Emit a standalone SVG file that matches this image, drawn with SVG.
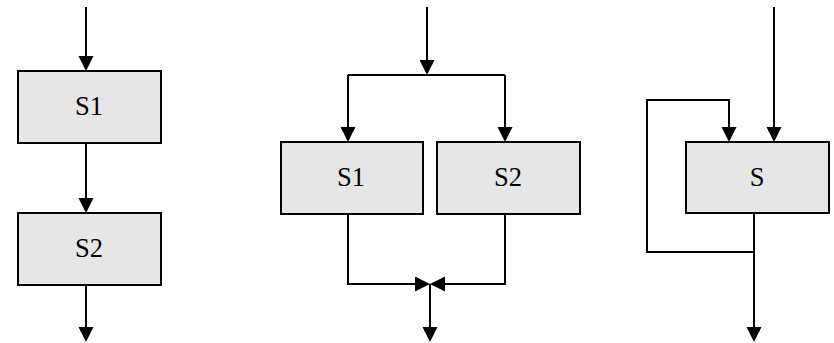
<svg xmlns="http://www.w3.org/2000/svg" width="834" height="343" viewBox="0 0 834 343">
<style>
.box{fill:#e6e6e6;stroke:#000;stroke-width:2}
.lbl{font-family:"Liberation Serif","Times New Roman",serif;font-size:26.5px;fill:#000;text-anchor:middle}
.ln{fill:none;stroke:#000;stroke-width:2}
.ar{marker-end:url(#ah)}
</style>
<defs>
<marker id="ah" markerUnits="userSpaceOnUse" markerWidth="16" markerHeight="16" refX="10" refY="7.5" orient="auto">
<path d="M0,0 L15,7.5 L0,15 z" fill="#000"/>
</marker>
</defs>
<rect width="834" height="343" fill="#fff"/>
<g id="seq-s1"><rect class="box" x="18" y="71" width="143" height="72"/><text class="lbl" x="89" y="115">S1</text></g>
<g id="seq-s2"><rect class="box" x="18" y="213" width="143" height="72"/><text class="lbl" x="89" y="257">S2</text></g>
<g id="par-s1"><rect class="box" x="281" y="142" width="142" height="72"/><text class="lbl" x="351" y="186">S1</text></g>
<g id="par-s2"><rect class="box" x="437" y="142" width="143" height="72"/><text class="lbl" x="508" y="186">S2</text></g>
<g id="loop-s"><rect class="box" x="686" y="142" width="143" height="71"/><text class="lbl" x="757" y="186">S</text></g>
<g id="connectors">
<line class="ln ar" x1="86" y1="7" x2="86" y2="66"/>
<line class="ln ar" x1="86" y1="143" x2="86" y2="208"/>
<line class="ln ar" x1="86" y1="285" x2="86" y2="337"/>
<line class="ln ar" x1="427" y1="7" x2="427" y2="70"/>
<line class="ln" x1="348" y1="75" x2="505" y2="75"/>
<line class="ln ar" x1="348" y1="75" x2="348" y2="137"/>
<line class="ln ar" x1="505" y1="75" x2="505" y2="137"/>
<polyline class="ln ar" points="348,214 348,284 425,284"/>
<polyline class="ln ar" points="505,214 505,284 435,284"/>
<line class="ln ar" x1="430" y1="284" x2="430" y2="337"/>
<line class="ln ar" x1="774" y1="7" x2="774" y2="137"/>
<line class="ln ar" x1="754" y1="213" x2="754" y2="337"/>
<polyline class="ln ar" points="754,252 647,252 647,100 729,100 729,137"/>
</g>
</svg>
